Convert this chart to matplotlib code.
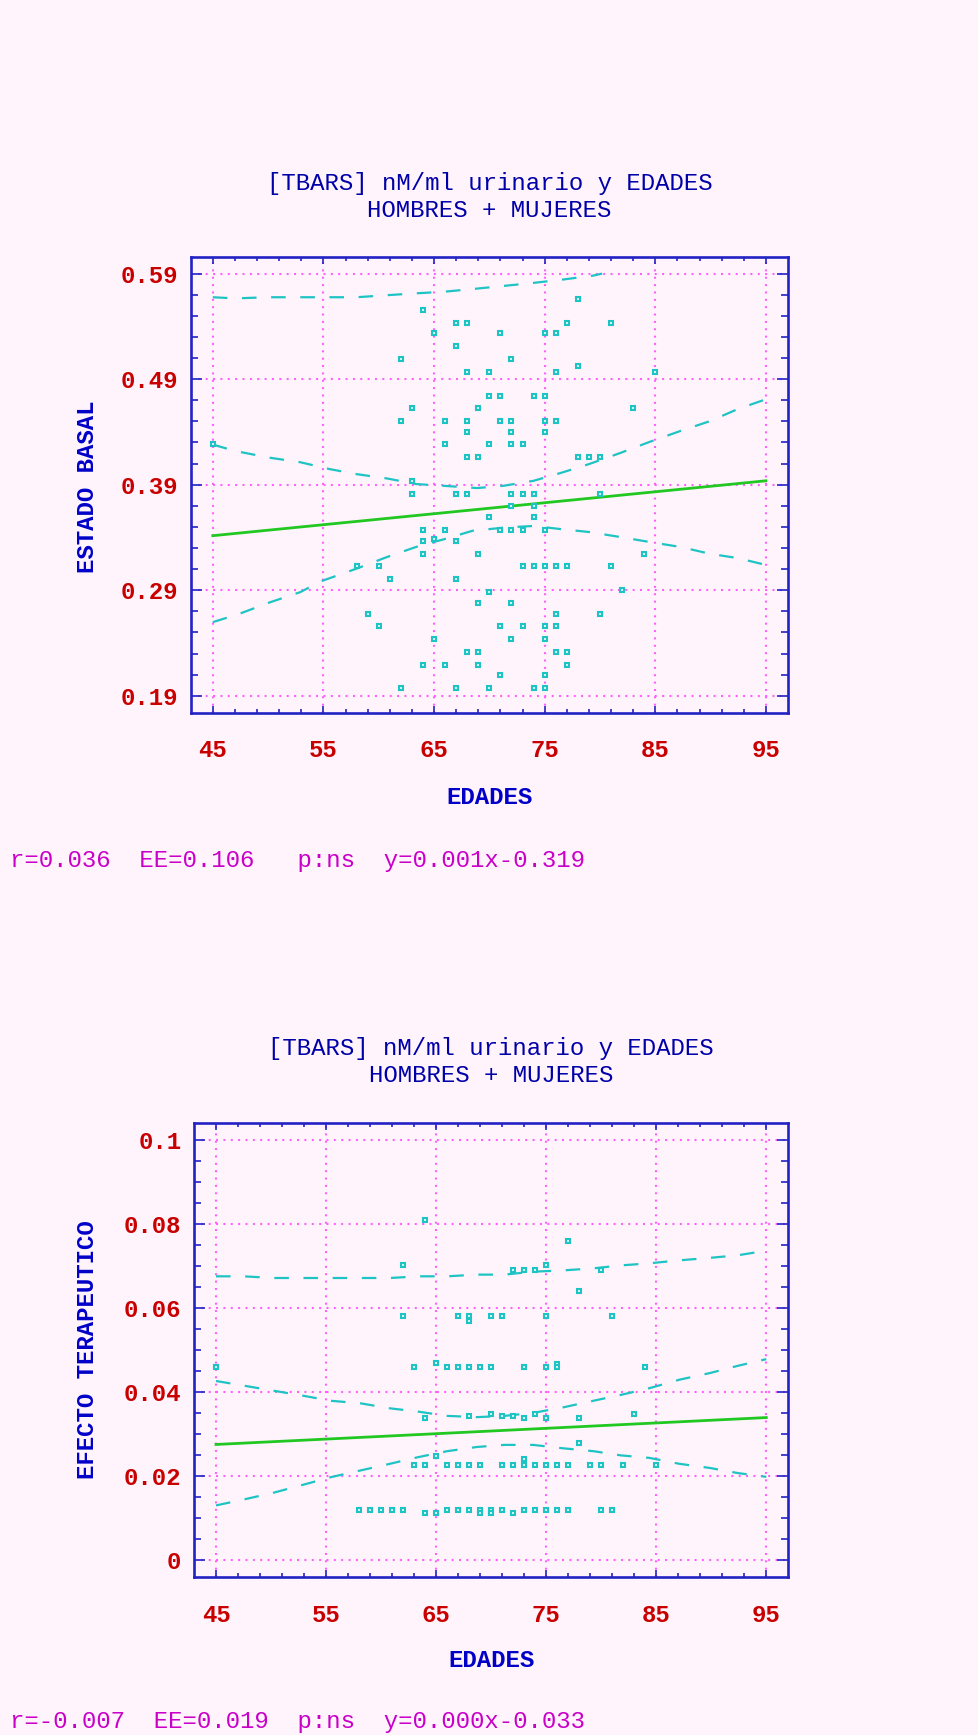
import matplotlib
matplotlib.use("Agg")
import matplotlib.pyplot as plt
from matplotlib.ticker import FixedLocator, FixedFormatter

plt.rcParams['lines.scale_dashes'] = False

# ---------------- data ----------------
title_lines = ["[TBARS] nM/ml urinario y EDADES", "HOMBRES + MUJERES"]
x_label = "EDADES"
x_ticks = [45, 55, 65, 75, 85, 95]
x_ticklabels = ["45", "55", "65", "75", "85", "95"]

# top panel (ESTADO BASAL)
top_ylabel = "ESTADO BASAL"
top_yticks = [0.19, 0.29, 0.39, 0.49, 0.59]
top_yticklabels = ["0.19", "0.29", "0.39", "0.49", "0.59"]
top_stats = "r=0.036  EE=0.106   p:ns  y=0.001x-0.319"
top_age = [64, 67, 68, 65, 71, 67, 62, 68, 70, 70, 71, 63, 69, 62, 66, 68, 71, 68, 66, 70, 68, 69, 45,
           78, 77, 81, 75, 76, 72, 78, 76, 85, 74, 75, 83, 72, 75, 76, 72, 75, 72, 73, 78, 79, 80,
           63, 63, 67, 68, 70, 64, 66, 71, 65, 64, 67, 64, 69, 58, 60, 61, 67, 70, 69, 71,
           59, 60, 65, 68, 69, 64, 66, 69, 71, 62, 67, 70,
           72, 73, 74, 80, 72, 74, 74, 72, 73, 75, 84, 73, 74, 75, 76, 77, 81, 82, 72, 76, 80,
           73, 75, 76, 72, 75, 76, 77, 77, 75, 74, 75]
top_val = [0.5553, 0.5434, 0.5434, 0.5333, 0.5333, 0.521, 0.509, 0.4971, 0.4971, 0.4744, 0.4744, 0.4624,
           0.4624, 0.4504, 0.4504, 0.4504, 0.4504, 0.44, 0.4281, 0.4281, 0.4158, 0.4158, 0.4281,
           0.5657, 0.5434, 0.5434, 0.5333, 0.5333, 0.509, 0.5021, 0.4971, 0.4971, 0.4744, 0.4744, 0.4624,
           0.4504, 0.4504, 0.4504, 0.44, 0.44, 0.4281, 0.4281, 0.4158, 0.4158, 0.4158,
           0.3934, 0.3814, 0.3814, 0.3814, 0.3591, 0.3471, 0.3471, 0.3471, 0.3389, 0.337, 0.337, 0.3247,
           0.3247, 0.3128, 0.3128, 0.3005, 0.3005, 0.2885, 0.2781, 0.2557,
           0.2677, 0.2557, 0.2438, 0.2315, 0.2315, 0.2195, 0.2195, 0.2195, 0.2094, 0.1971, 0.1971, 0.1971,
           0.3814, 0.3814, 0.3814, 0.3814, 0.3695, 0.3695, 0.3591, 0.3471, 0.3471, 0.3471, 0.3247, 0.3128,
           0.3128, 0.3128, 0.3128, 0.3128, 0.3128, 0.290, 0.2781, 0.2677, 0.2677,
           0.2557, 0.2557, 0.2557, 0.2438, 0.2438, 0.2315, 0.2315, 0.2195, 0.2094, 0.1971, 0.1971]
top_fit_age = [45, 95]
top_fit_val = [0.3417, 0.3937]
top_ciu_age = [45, 47, 50, 52.9, 55.6, 58, 60.7, 63.4, 65.8, 68.9, 71.3, 74, 76.6, 79, 81.8, 84.5, 87.3, 90, 92.4, 95]
top_ciu_val = [0.428, 0.422, 0.4158, 0.4113, 0.4047, 0.400, 0.396, 0.3906, 0.389, 0.3868, 0.389, 0.3937,
               0.4016, 0.4095, 0.4199, 0.4306, 0.441, 0.4504, 0.4614, 0.4709]
top_cil_age = [45, 47.4, 50.2, 52.9, 54.8, 58, 60.7, 63.7, 66, 68.5, 71.6, 74, 76.4, 79, 81.8, 84.5, 87.3, 90, 92.4, 95]
top_cil_val = [0.2598, 0.2677, 0.2787, 0.2882, 0.2986, 0.3105, 0.3213, 0.3322, 0.3386, 0.3464, 0.3496,
               0.3509, 0.348, 0.3452, 0.3405, 0.3357, 0.331, 0.3244, 0.3206, 0.314]
top_piu_age = [45, 47, 50, 53, 55, 58, 60.7, 63.5, 65.8, 68.9, 71, 74, 76.6, 79.4, 80.2]
top_piu_val = [0.5676, 0.5665, 0.5676, 0.5676, 0.5676, 0.5676, 0.5695, 0.5714, 0.5727, 0.5758, 0.578,
               0.5812, 0.5843, 0.5881, 0.590]

# bottom panel (EFECTO TERAPEUTICO)
bot_ylabel = "EFECTO TERAPEUTICO"
bot_yticks = [0, 0.02, 0.04, 0.06, 0.08, 0.1]
bot_yticklabels = ["0", "0.02", "0.04", "0.06", "0.08", "0.1"]
bot_stats = "r=-0.007  EE=0.019  p:ns  y=0.000x-0.033"
bot_age = [64, 62, 62, 67, 68, 68, 70,
           77, 75, 74, 80, 72, 73, 78, 71, 75, 81,
           45, 63, 65, 66, 67, 68, 69, 70, 64, 68, 70, 63, 64, 66, 67, 68, 69, 65,
           58, 59, 60, 61, 62, 64, 65, 66, 67, 68, 69, 69, 70,
           73, 75, 76, 76, 84, 71, 72, 73, 74, 75, 78, 83, 78, 71, 72, 73, 73, 74, 75, 76, 77,
           79, 80, 82, 85, 70, 71, 72, 73, 74, 75, 76, 77, 80, 81]
bot_val = [0.0809, 0.0703, 0.0582, 0.0582, 0.0582, 0.057, 0.0582,
           0.0759, 0.0703, 0.069, 0.069, 0.069, 0.069, 0.0642, 0.0582, 0.0582, 0.0582,
           0.0461, 0.0461, 0.0469, 0.0461, 0.0461, 0.0461, 0.0461, 0.0461, 0.034, 0.0344, 0.0349,
           0.0228, 0.0228, 0.0228, 0.0228, 0.0228, 0.0228, 0.0248,
           0.012, 0.012, 0.012, 0.012, 0.012, 0.0112, 0.0112, 0.012, 0.012, 0.012, 0.012, 0.0112, 0.012,
           0.0461, 0.0461, 0.0467, 0.0461, 0.0461, 0.0344, 0.0344, 0.034, 0.0349, 0.034, 0.034, 0.0349,
           0.0279, 0.0228, 0.0228, 0.0241, 0.0228, 0.0228, 0.0228, 0.0228, 0.0228,
           0.0228, 0.0228, 0.0228, 0.0228, 0.0112, 0.012, 0.0112, 0.012, 0.012, 0.012, 0.012, 0.012,
           0.012, 0.012]
bot_fit_age = [45, 95]
bot_fit_val = [0.0276, 0.0340]
bot_band_age = [45, 47.5, 50.2, 52.9, 55.4, 58.1, 60.8, 63.4, 66, 68.7, 71.2, 73.8, 76.5, 79.3, 81.8,
                84.4, 87.1, 89.9, 92.4, 95]
bot_ciu_val = [0.0427, 0.0416, 0.0404, 0.0392, 0.038, 0.0374, 0.0362, 0.0354, 0.0344, 0.0341, 0.0344,
               0.0351, 0.0364, 0.038, 0.0394, 0.041, 0.043, 0.0446, 0.0463, 0.0479]
bot_cil_val = [0.0131, 0.0145, 0.0161, 0.018, 0.0198, 0.0214, 0.023, 0.0246, 0.026, 0.027, 0.0275,
               0.0275, 0.0267, 0.026, 0.025, 0.0244, 0.023, 0.022, 0.0208, 0.0199]
bot_piu_val = [0.0676, 0.0676, 0.0672, 0.0672, 0.0672, 0.0672, 0.0672, 0.0676, 0.0676, 0.068, 0.068,
               0.0687, 0.069, 0.0695, 0.0702, 0.0707, 0.0714, 0.072, 0.0726, 0.0737]

# ---------------- style ----------------
W, H = 979, 1735
BG = "#FFF4FC"
SPINE = "#2222C4"
TITLE_C = "#0000A8"
LABEL_C = "#0000C8"
TICK_C = "#C80000"
STAT_C = "#C800C8"
GRID_C = "#FF5CFF"
CYAN = "#1EC4C4"
GREEN = "#22C822"
FONT = "Liberation Mono"
FS = 17.3

fig = plt.figure(figsize=(W / 100, H / 100), dpi=100, facecolor=BG)


def px(x, y):
    return x / W, 1 - y / H


def panel(rect, yticks, yticklabels, ylim, yminor, ylabel, ages, vals,
          fit_a, fit_v, band_sets, stats, title_y, ylabel_xy, xlabel_y, stats_y):
    l, t, r, b = rect
    ax = fig.add_axes([l / W, 1 - b / H, (r - l) / W, (b - t) / H])
    ax.set_facecolor(BG)
    ax.set_xlim(43, 97)
    ax.set_ylim(*ylim)
    for s in ax.spines.values():
        s.set_color(SPINE)
        s.set_linewidth(1.9)
    ax.xaxis.set_major_locator(FixedLocator(x_ticks))
    ax.xaxis.set_major_formatter(FixedFormatter(x_ticklabels))
    ax.xaxis.set_minor_locator(FixedLocator(list(range(45, 96, 2))))
    ax.yaxis.set_major_locator(FixedLocator(yticks))
    ax.yaxis.set_major_formatter(FixedFormatter(yticklabels))
    ax.yaxis.set_minor_locator(FixedLocator(yminor))
    ax.tick_params(axis='both', which='both', direction='in', top=True, right=True,
                   color=SPINE, width=1.2, labelcolor=TICK_C, labelsize=FS)
    ax.tick_params(axis='x', which='major', length=5.0, pad=19)
    ax.tick_params(axis='x', which='minor', length=3.0)
    ax.tick_params(axis='y', which='major', length=7.8, pad=9)
    ax.tick_params(axis='y', which='minor', length=4.8)
    for lab in ax.get_xticklabels() + ax.get_yticklabels():
        lab.set_fontfamily(FONT)
        lab.set_fontweight('bold')
    ax.grid(True, which='major', color=GRID_C, linewidth=1.5, linestyle=(0, (1.4, 3.9)))
    ax.set_axisbelow(True)

    for ba, bv in band_sets:
        ax.plot(ba, bv, color=CYAN, linewidth=1.6, linestyle=(0, (10.5, 10.5)), zorder=3)
    ax.plot(fit_a, fit_v, color=GREEN, linewidth=2.0, zorder=4)
    ax.plot(ages, vals, linestyle='none', marker='s', markersize=3.0,
            markerfacecolor='#E4F8F8', markeredgecolor=CYAN, markeredgewidth=1.5, zorder=5)

    cx = (l + r) / 2
    fig.text(*px(cx, title_y[0]), title_lines[0], ha='center', va='center',
             color=TITLE_C, fontsize=FS, family=FONT)
    fig.text(*px(cx, title_y[1]), title_lines[1], ha='center', va='center',
             color=TITLE_C, fontsize=FS, family=FONT)
    fig.text(*px(*ylabel_xy), ylabel, ha='center', va='center', rotation=90,
             color=LABEL_C, fontsize=FS, family=FONT, fontweight='bold')
    fig.text(*px(cx, xlabel_y), x_label, ha='center', va='center',
             color=LABEL_C, fontsize=FS, family=FONT, fontweight='bold')
    fig.text(*px(10, stats_y), stats, ha='left', va='center',
             color=STAT_C, fontsize=FS, family=FONT)
    return ax


top_minor = [0.19 + 0.02 * k for k in range(21)]
panel((190.7, 256.7, 788, 712.7), top_yticks, top_yticklabels, (0.174, 0.606), top_minor,
      top_ylabel, top_age, top_val, top_fit_age, top_fit_val,
      [(top_piu_age, top_piu_val), (top_ciu_age, top_ciu_val), (top_cil_age, top_cil_val)],
      top_stats, (183.5, 210.5), (87, 487), 797, 860)

bot_minor = [0.005 * k for k in range(21)]
panel((194, 1123.3, 788.3, 1577.3), bot_yticks, bot_yticklabels, (-0.004, 0.104), bot_minor,
      bot_ylabel, bot_age, bot_val, bot_fit_age, bot_fit_val,
      [(bot_band_age, bot_piu_val), (bot_band_age, bot_ciu_val), (bot_band_age, bot_cil_val)],
      bot_stats, (1049, 1076), (87, 1350), 1660, 1721)

fig.savefig("out.png", dpi=100, facecolor=BG)
